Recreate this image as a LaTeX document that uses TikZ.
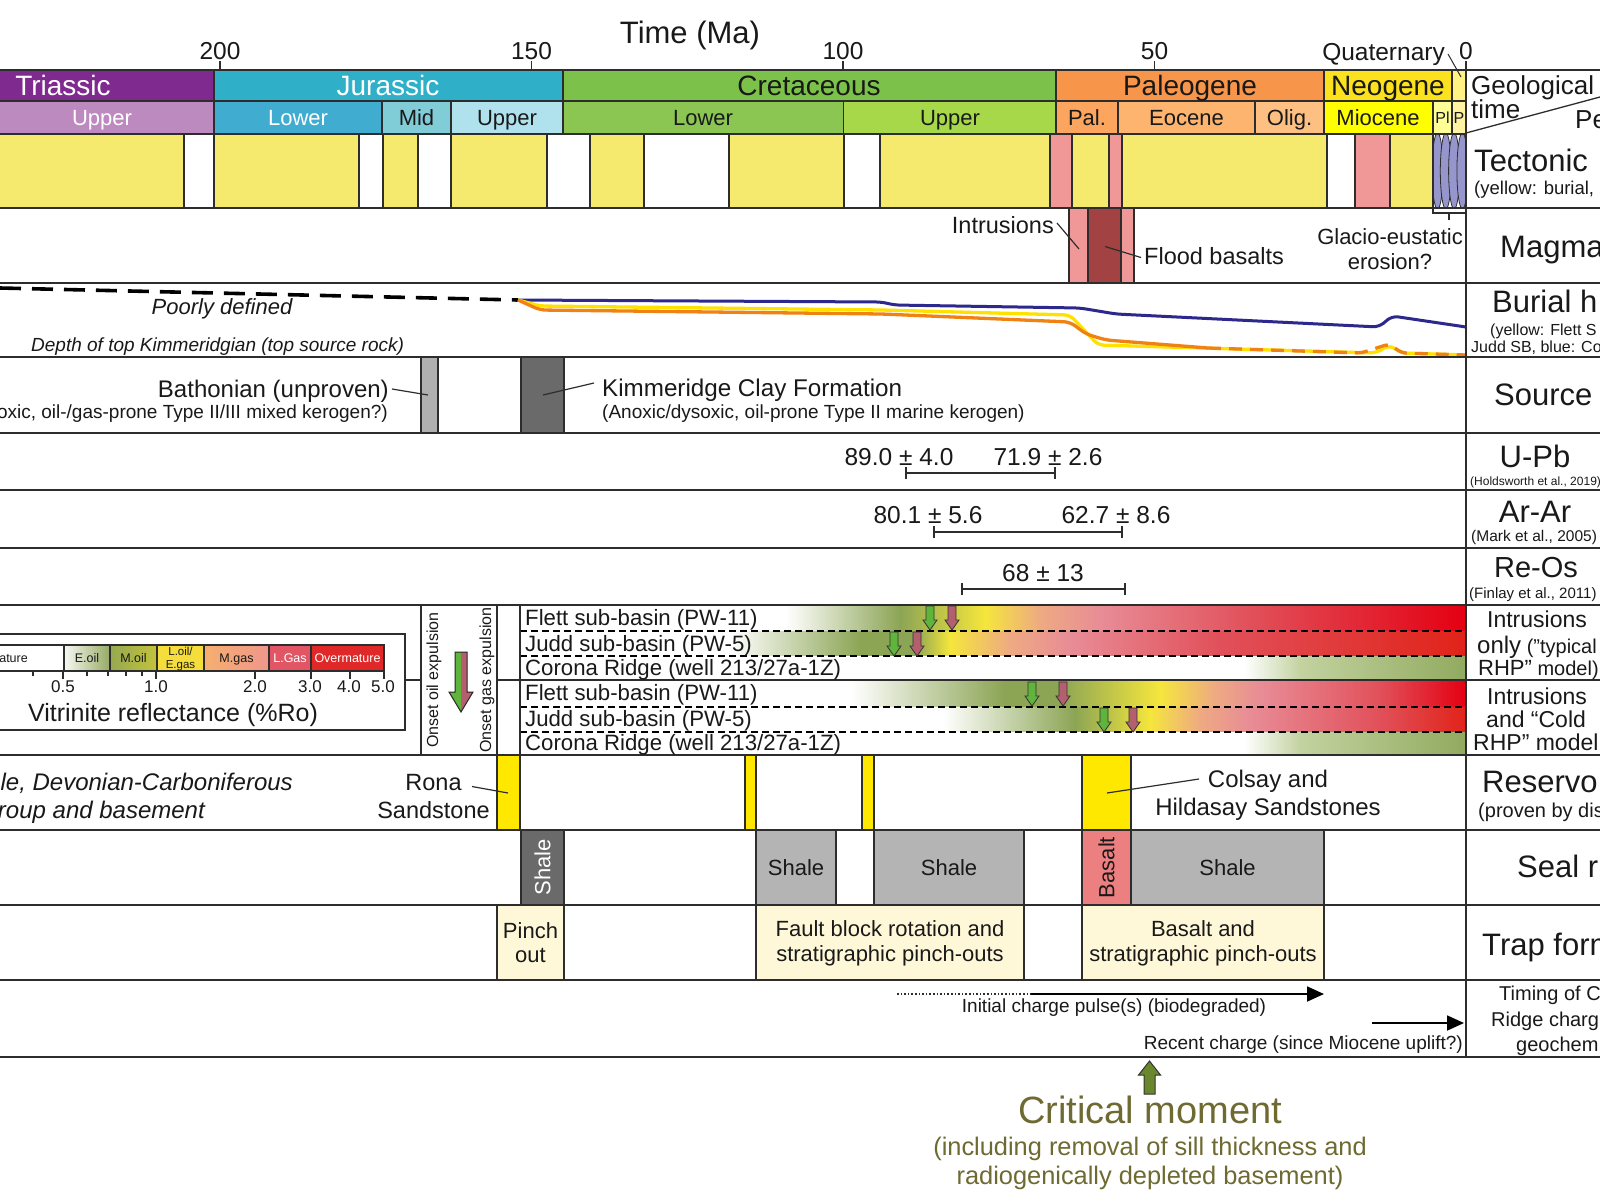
\documentclass[tikz,border=0pt]{standalone}
\usepackage{fontspec}
\setmainfont{Liberation Sans}
\usetikzlibrary{arrows.meta}

\definecolor{cTri}{RGB}{127,42,143}
\definecolor{cJur}{RGB}{48,176,200}
\definecolor{cCre}{RGB}{124,194,74}
\definecolor{cPal}{RGB}{247,149,74}
\definecolor{cNeo}{RGB}{252,225,30}
\definecolor{cQua}{RGB}{255,242,130}
\definecolor{eTriU}{RGB}{189,138,191}
\definecolor{eJurL}{RGB}{64,172,208}
\definecolor{eJurM}{RGB}{128,205,216}
\definecolor{eJurU}{RGB}{176,226,238}
\definecolor{eCreL}{RGB}{139,198,82}
\definecolor{eCreU}{RGB}{166,216,74}
\definecolor{ePal}{RGB}{251,165,94}
\definecolor{eEoc}{RGB}{252,180,110}
\definecolor{eOli}{RGB}{253,192,130}
\definecolor{eMio}{RGB}{255,255,0}
\definecolor{ePli}{RGB}{255,255,150}
\definecolor{ePle}{RGB}{255,242,160}
\definecolor{cYel}{RGB}{245,233,110}
\definecolor{cPink}{RGB}{240,152,152}
\definecolor{cEll}{RGB}{150,150,205}
\definecolor{cDRed}{RGB}{162,66,66}
\definecolor{cLGray}{RGB}{180,180,180}
\definecolor{cBGray}{RGB}{176,176,176}
\definecolor{cDGray}{RGB}{106,106,106}
\definecolor{cRes}{RGB}{255,232,0}
\definecolor{cBas}{RGB}{236,128,128}
\definecolor{cTrap}{RGB}{255,248,216}
\definecolor{cLine}{RGB}{45,45,45}
\definecolor{cTxt}{RGB}{25,25,25}
\definecolor{cBlue}{RGB}{45,40,140}
\definecolor{cYline}{RGB}{255,225,0}
\definecolor{cOrange}{RGB}{240,130,20}
\definecolor{cArrG}{RGB}{95,180,60}
\definecolor{cArrR}{RGB}{180,95,110}
\definecolor{cCrit}{RGB}{110,106,50}
\definecolor{cCritArr}{RGB}{105,135,45}
\definecolor{gGreen}{RGB}{140,165,85}
\definecolor{gYellow}{RGB}{245,230,60}
\definecolor{gSalmon}{RGB}{238,170,130}
\definecolor{gPink}{RGB}{232,140,150}
\definecolor{gRedPink}{RGB}{225,80,90}
\definecolor{gRed}{RGB}{228,0,18}
\definecolor{gRed2}{RGB}{225,35,25}
\definecolor{cLight}{RGB}{195,210,160}
\definecolor{cOlive}{RGB}{145,170,95}
\definecolor{lEoil}{RGB}{150,170,100}
\definecolor{lMoilA}{RGB}{150,168,80}
\definecolor{lMoilB}{RGB}{195,195,60}
\definecolor{lLoil}{RGB}{245,222,60}
\definecolor{lMgasA}{RGB}{245,175,110}
\definecolor{lMgasB}{RGB}{240,150,140}
\definecolor{lLgas}{RGB}{225,85,100}
\definecolor{lOver}{RGB}{225,40,40}

\pgfdeclarehorizontalshading{shFlettA}{100bp}{color(0bp)=(white); color(39.06bp)=(white); color(45.08bp)=(gGreen); color(49.58bp)=(gYellow); color(52.48bp)=(gSalmon); color(55.66bp)=(gPink); color(63.58bp)=(gRedPink); color(75bp)=(gRed); color(100bp)=(gRed)}
\pgfdeclarehorizontalshading{shJuddA}{100bp}{color(0bp)=(white); color(36.10bp)=(white); color(42.97bp)=(gGreen); color(45.88bp)=(gGreen); color(47.73bp)=(gYellow); color(50.90bp)=(gSalmon); color(54.07bp)=(gPink); color(62.0bp)=(gRedPink); color(75bp)=(gRed2); color(100bp)=(gRed2)}
\pgfdeclarehorizontalshading{shCorona}{100bp}{color(0bp)=(white); color(63.27bp)=(white); color(66.23bp)=(cLight); color(75bp)=(cOlive); color(100bp)=(cOlive)}
\pgfdeclarehorizontalshading{shFlettB}{100bp}{color(0bp)=(white); color(42.49bp)=(white); color(50.58bp)=(gGreen); color(53.54bp)=(gGreen); color(58.83bp)=(gYellow); color(61.73bp)=(gSalmon); color(64.11bp)=(gPink); color(70.45bp)=(gRedPink); color(75bp)=(gRed); color(100bp)=(gRed)}
\pgfdeclarehorizontalshading{shJuddB}{100bp}{color(0bp)=(white); color(47.36bp)=(white); color(54.33bp)=(gGreen); color(58.30bp)=(gYellow); color(60.94bp)=(gSalmon); color(63.58bp)=(gPink); color(70.45bp)=(gRedPink); color(75bp)=(gRed2); color(100bp)=(gRed2)}

% text helper: [opts]{name}{x}{y-centre of caps}{anchor}{size}{text}
\newcommand\tx[7][]{\node[inner sep=0pt, anchor=#5, text=cTxt, font=\fontsize{#6}{#6}\selectfont, #1] (#2) at ({#3},{#4+0.358*#6}) {#7};}
% small down arrow: {x}{ytop}{fill}
\newcommand\darr[3]{\filldraw[fill=#3, draw=black!80, line width=0.8pt] ({#1-4},{#2}) -- ({#1+4},{#2}) -- ({#1+4},{#2+14}) -- ({#1+7},{#2+14}) -- ({#1},{#2+24}) -- ({#1-7},{#2+14}) -- ({#1-4},{#2+14}) -- cycle;}

\begin{document}
\begin{tikzpicture}[x=1pt,y=-1pt,
  boxs/.style={draw=cLine, line width=1.4pt},
  rowline/.style={draw=cLine, line width=2.2pt},
  thinl/.style={draw=cLine, line width=1.3pt}]
\useasboundingbox (0,0) rectangle (1600,1200);
\clip (0,0) rectangle (1600,1200);
\fill[white] (0,0) rectangle (1600,1200);

% ---------------- geological time scale ----------------
\filldraw[boxs, fill=cTri] (-5,70) rectangle (214,101);
\filldraw[boxs, fill=cJur] (214,70) rectangle (563,101);
\filldraw[boxs, fill=cCre] (563,70) rectangle (1056,101);
\filldraw[boxs, fill=cPal] (1056,70) rectangle (1324,101);
\filldraw[boxs, fill=cNeo] (1324,70) rectangle (1452,101);
\filldraw[boxs, fill=cQua] (1452,70) rectangle (1466,101);

\filldraw[boxs, fill=eTriU] (-5,101) rectangle (214,134);
\filldraw[boxs, fill=eJurL] (214,101) rectangle (382,134);
\filldraw[boxs, fill=eJurM] (382,101) rectangle (451,134);
\filldraw[boxs, fill=eJurU] (451,101) rectangle (563,134);
\filldraw[boxs, fill=eCreL] (563,101) rectangle (843.5,134);
\filldraw[boxs, fill=eCreU] (843.5,101) rectangle (1056,134);
\filldraw[boxs, fill=ePal] (1056,101) rectangle (1118,134);
\filldraw[boxs, fill=eEoc] (1118,101) rectangle (1255,134);
\filldraw[boxs, fill=eOli] (1255,101) rectangle (1324,134);
\filldraw[boxs, fill=eMio] (1324,101) rectangle (1433,134);
\filldraw[boxs, fill=ePli] (1433,101) rectangle (1452,134);
\filldraw[boxs, fill=ePle] (1452,101) rectangle (1466,134);

% ---------------- tectonic row ----------------
\foreach \a/\b in {-5/184, 214/359, 383/418, 451/547, 590/644, 729/844, 880/1050, 1072/1109, 1122/1327, 1390/1433}
  \filldraw[boxs, fill=cYel] (\a,134) rectangle (\b,208);
\foreach \a/\b in {184/214, 359/383, 418/451, 547/590, 644/729, 844/880, 1327/1355}
  \filldraw[boxs, fill=white] (\a,134) rectangle (\b,208);
\foreach \a/\b in {1050/1072, 1109/1122, 1355/1390}
  \filldraw[boxs, fill=cPink] (\a,134) rectangle (\b,208);
\begin{scope}
  \clip (1433,134) rectangle (1466,208);
  \fill[white] (1433,134) rectangle (1466,208);
  \foreach \c in {1437.5,1445.8,1454.1,1462.4}
    \filldraw[fill=cEll, draw=cLine, line width=0.8pt] (\c,171) ellipse [x radius=5.5pt, y radius=38pt];
\end{scope}
\draw[boxs] (1433,134) rectangle (1466,208);

% ---------------- magmatism row ----------------
\filldraw[boxs, fill=cPink] (1069,208) rectangle (1134,283);
\filldraw[boxs, fill=cDRed] (1088,208) rectangle (1121,283);
\draw[thinl] (1433,208) -- (1433,213) -- (1466,213);
\draw[thinl] (1449,213) -- (1449,220);

% ---------------- source row ----------------
\filldraw[boxs, fill=cBGray] (421,357) rectangle (438,433);
\filldraw[boxs, fill=cDGray] (521,357) rectangle (564,433);

% ---------------- maturation rows ----------------
\shade[shading=shFlettA] (520,605) rectangle (1466,631);
\shade[shading=shJuddA] (520,631) rectangle (1466,656);
\shade[shading=shCorona] (520,656) rectangle (1466,680);
\shade[shading=shFlettB] (520,680) rectangle (1466,707);
\shade[shading=shJuddB] (520,707) rectangle (1466,732);
\shade[shading=shCorona] (520,732) rectangle (1466,755);
\foreach \y in {631,656,707,732}
  \draw[black, line width=1.3pt, dash pattern=on 7pt off 4pt] (520,\y) -- (1466,\y);
\darr{930}{606}{cArrG}\darr{952}{606}{cArrR}
\darr{894}{632}{cArrG}\darr{917}{632}{cArrR}
\darr{1032}{682}{cArrG}\darr{1063}{682}{cArrR}
\darr{1104}{708}{cArrG}\darr{1133}{708}{cArrR}
\draw[thinl] (421,605) -- (421,755);
\draw[thinl] (497,605) -- (497,755);
\draw[thinl] (520,605) -- (520,755);
\draw[rowline] (497,680) -- (1600,680);
\draw[thinl] (405,680) -- (421,680);

% onset arrow
\fill[cArrG] (455,652) -- (461,652) -- (461,712) -- (449,692) -- (455,692) -- cycle;
\fill[cArrR] (461,652) -- (467,652) -- (467,692) -- (473,692) -- (461,712) -- cycle;
\draw[draw=black!85, line width=1pt] (455,652) -- (467,652) -- (467,692) -- (473,692) -- (461,712) -- (449,692) -- (455,692) -- cycle;
\node[rotate=90, inner sep=0pt, text=cTxt, font=\fontsize{16}{16}\selectfont] (onoil) at (434,680) {Onset oil expulsion};
\node[rotate=90, inner sep=0pt, text=cTxt, font=\fontsize{16}{16}\selectfont] (ongas) at (487,680) {Onset gas expulsion};

% legend
\draw[line width=2pt, draw=cLine, fill=white] (-10,634) rectangle (405,730);
\filldraw[thinl, fill=white] (-40,645) rectangle (64,671);
\shade[left color=white!92!lEoil, right color=lEoil] (64,645) rectangle (110,671);
\shade[left color=lMoilA, right color=lMoilB] (110,645) rectangle (157,671);
\fill[lLoil] (157,645) rectangle (204,671);
\shade[left color=lMgasA, right color=lMgasB] (204,645) rectangle (269,671);
\fill[lLgas] (269,645) rectangle (311,671);
\fill[lOver] (311,645) rectangle (384,671);
\foreach \a/\b in {64/110, 110/157, 157/204, 204/269, 269/311, 311/384}
  \draw[line width=1.1pt, draw=cLine] (\a,645) rectangle (\b,671);
\foreach \x in {33,87,108,126,142}
  \draw[line width=1.1pt, draw=cLine] (\x,671) -- (\x,676);
\foreach \x in {63,156,255,311,350,384}
  \draw[line width=1.2pt, draw=cLine] (\x,671) -- (\x,679);
\tx{lIm}{28}{658}{base east}{12.5}{Immature}
\tx{lEo}{87}{658}{base}{12.5}{E.oil}
\tx{lMo}{133.5}{658}{base}{12.5}{M.oil}
\tx{lLo}{180.5}{651.5}{base}{11.5}{L.oil/}
\tx{lEg}{180.5}{664}{base}{11.5}{E.gas}
\tx{lMg}{236.5}{658}{base}{12.5}{M.gas}
\tx[text=white]{lLg}{290}{658}{base}{12.5}{L.Gas}
\tx[text=white]{lOv}{347.5}{658}{base}{12.5}{Overmature}
\tx{t05}{63}{686}{base}{17}{0.5}
\tx{t10}{156}{686}{base}{17}{1.0}
\tx{t20}{255}{686}{base}{17}{2.0}
\tx{t30}{310}{686}{base}{17}{3.0}
\tx{t40}{349}{686}{base}{17}{4.0}
\tx{t50}{383}{686}{base}{17}{5.0}
\tx{lVit}{173}{713}{base}{25}{Vitrinite reflectance (\%Ro)}

% ---------------- reservoir / seal / trap ----------------
\filldraw[boxs, fill=cRes] (497,755) rectangle (520,830);
\filldraw[boxs, fill=cRes] (745,755) rectangle (756,830);
\filldraw[boxs, fill=cRes] (862,755) rectangle (874,830);
\filldraw[boxs, fill=cRes] (1082,755) rectangle (1131,830);

\filldraw[boxs, fill=cDGray] (521,830) rectangle (564,905);
\filldraw[boxs, fill=cLGray] (756,830) rectangle (836,905);
\filldraw[boxs, fill=cLGray] (874,830) rectangle (1024,905);
\filldraw[boxs, fill=cBas] (1082,830) rectangle (1131,905);
\filldraw[boxs, fill=cLGray] (1131,830) rectangle (1324,905);

\filldraw[boxs, fill=cTrap] (497,905) rectangle (564,980);
\filldraw[boxs, fill=cTrap] (756,905) rectangle (1024,980);
\filldraw[boxs, fill=cTrap] (1082,905) rectangle (1324,980);

% ---------------- burial history ----------------
\coordinate (dashL) at (0,288);
\coordinate (bStart) at (518,300);
\draw[black, line width=3.6pt, dash pattern=on 21pt off 11pt] (dashL) -- (bStart);
\draw[cBlue, line width=3pt, rounded corners=6pt] (bStart) -- (882,302) -- (894,305) -- (1080,308) -- (1116,314) -- (1379,327) -- (1392,316) -- (1466,327);
\draw[cYline, line width=3.3pt, rounded corners=6pt] (bStart) -- (540,306) -- (882,310) -- (1070,315) -- (1098,345) -- (1376,353) -- (1389,345) -- (1402,353) -- (1466,355);
\draw[cOrange, line width=3.3pt, rounded corners=6pt] (bStart) -- (540,310) -- (882,314) -- (1070,322) -- (1086,334) -- (1106,340) -- (1208,348);
\draw[cOrange, line width=3.3pt, dash pattern=on 13pt off 8pt, rounded corners=4pt] (1208,348) -- (1361,353) -- (1389,344) -- (1402,353) -- (1466,355);

% ---------------- error bars ----------------
\coordinate (u1) at (906,473); \coordinate (u2) at (1055,473);
\coordinate (r1) at (934,532); \coordinate (r2) at (1122,532);
\coordinate (o1) at (962,589); \coordinate (o2) at (1125,589);
\foreach \p/\q in {u1/u2, r1/r2, o1/o2}{
  \draw[line width=1.5pt, draw=cLine] (\p) -- (\q);
  \draw[line width=1.8pt, draw=cLine] ([yshift=-6pt]\p) -- ([yshift=6pt]\p);
  \draw[line width=1.8pt, draw=cLine] ([yshift=-6pt]\q) -- ([yshift=6pt]\q);
}

% ---------------- timing arrows ----------------
\coordinate (ic0) at (897,994); \coordinate (ic1) at (1031,994); \coordinate (ic2) at (1324,994);
\draw[line width=1.6pt, dotted, draw=cLine] (ic0) -- (ic1);
\draw[line width=1.8pt, draw=black, -{Triangle[length=17pt,width=15pt]}] (ic1) -- (ic2);
\coordinate (rc1) at (1372,1023); \coordinate (rc2) at (1464,1023);
\draw[line width=1.8pt, draw=black, -{Triangle[length=17pt,width=15pt]}] (rc1) -- (rc2);

% critical moment arrow
\filldraw[fill=cCritArr, draw=black!80, line width=1pt] (1144,1094) -- (1144,1075) -- (1138.5,1075) -- (1149.5,1061) -- (1160.5,1075) -- (1155,1075) -- (1155,1094) -- cycle;

% ---------------- grid lines ----------------
\foreach \y in {70,208,283,357,433,490,548,605,755,830,905,980,1057}
  \draw[rowline] (0,\y) -- (1600,\y);
\draw[rowline] (0,101) -- (1466,101);
\draw[rowline] (0,134) -- (1466,134);
\draw[rowline] (1466,70) -- (1466,1057);
\draw[thinl] (1466,133) -- (1600,97);
\foreach \x in {220,531.5,843,1154.5,1466} \draw[thinl] (\x,61) -- (\x,70);
\draw[line width=1pt, draw=cLine] (1448,54) -- (1461,77);

% ---------------- texts: header ----------------
\tx{ttl}{690}{32}{base}{31}{Time (Ma)}
\tx{a200}{220}{50.5}{base}{24.5}{200}
\tx{a150}{531.5}{50.5}{base}{24.5}{150}
\tx{a100}{843}{50.5}{base}{24.5}{100}
\tx{a50}{1154.5}{50.5}{base}{24.5}{50}
\tx{a0}{1466}{50.5}{base}{24.5}{0}
\tx{quat}{1445}{52}{base east}{24.5}{Quaternary}

\tx[text=white]{pTri}{63}{85}{base}{28}{Triassic}
\tx[text=white]{pJur}{388}{85}{base}{28}{Jurassic}
\tx{pCre}{809}{85}{base}{28}{Cretaceous}
\tx{pPal}{1190}{85}{base}{28}{Paleogene}
\tx{pNeo}{1388}{85}{base}{28}{Neogene}

\tx[text=white]{eA}{102}{118}{base}{22}{Upper}
\tx[text=white]{eB}{298}{118}{base}{22}{Lower}
\tx{eC}{416.5}{118}{base}{22}{Mid}
\tx{eD}{507}{118}{base}{22}{Upper}
\tx{eE}{703}{118}{base}{22}{Lower}
\tx{eF}{950}{118}{base}{22}{Upper}
\tx{eG}{1087}{118}{base}{22}{Pal.}
\tx{eH}{1186.5}{118}{base}{22}{Eocene}
\tx{eI}{1289.5}{118}{base}{22}{Olig.}
\tx{eJ}{1378}{118}{base}{22}{Miocene}
\tx{eK}{1442.5}{118}{base}{16}{Pl}
\tx{eL}{1459}{118}{base}{16}{P}

% ---------------- texts: magmatism ----------------
\tx{intr}{1054}{225}{base east}{23.5}{Intrusions}
\draw[line width=1.2pt, draw=cLine] ([xshift=3pt,yshift=2pt]intr.east) -- (1079,249);
\tx{flood}{1144}{256.5}{base west}{23.5}{Flood basalts}
\draw[line width=1.2pt, draw=cLine] (1105,246.5) -- ([xshift=-3pt,yshift=-1pt]flood.west);
\tx{glac1}{1390}{236.5}{base}{22}{Glacio-eustatic}
\tx{glac2}{1390}{261.5}{base}{22}{erosion?}

% ---------------- texts: burial ----------------
\tx{poor}{222}{307}{base}{22}{\itshape Poorly defined}
\tx{depth}{31}{345}{base west}{19}{\itshape Depth of top Kimmeridgian (top source rock)}

% ---------------- texts: source ----------------
\tx{bath}{389}{388.5}{base east}{24}{Bathonian (unproven)}
\draw[line width=1.2pt, draw=cLine] (392,389) -- (428,395);
\tx{bath2}{388}{412}{base east}{19}{(Dysoxic, oil-/gas-prone Type II/III mixed kerogen?)}
\tx{kimm}{602}{388}{base west}{24.2}{Kimmeridge Clay Formation}
\draw[line width=1.2pt, draw=cLine] (594,383) -- (543,395);
\tx{kimm2}{602}{412}{base west}{19}{(Anoxic/dysoxic, oil-prone Type II marine kerogen)}

% ---------------- texts: ages ----------------
\tx{up1}{899}{457}{base}{24.5}{89.0 ± 4.0}
\tx{up2}{1048}{457}{base}{24.5}{71.9 ± 2.6}
\tx{ar1}{928}{515}{base}{24.5}{80.1 ± 5.6}
\tx{ar2}{1116}{515}{base}{24.5}{62.7 ± 8.6}
\tx{ro1}{1043}{573}{base}{24.5}{68 ± 13}

% ---------------- texts: sites ----------------
\tx{s1}{525}{618}{base west}{22.2}{Flett sub-basin (PW-11)}
\tx{s2}{525}{643.5}{base west}{22.2}{Judd sub-basin (PW-5)}
\tx{s3}{525}{668}{base west}{22.2}{Corona Ridge (well 213/27a-1Z)}
\tx{s4}{525}{693}{base west}{22.2}{Flett sub-basin (PW-11)}
\tx{s5}{525}{719}{base west}{22.2}{Judd sub-basin (PW-5)}
\tx{s6}{525}{743}{base west}{22.2}{Corona Ridge (well 213/27a-1Z)}

% ---------------- texts: reservoir ----------------
\tx{dev1}{293}{782}{base east}{24}{\itshape Shale, Devonian-Carboniferous}
\tx{dev2}{205}{810}{base east}{24}{\itshape Group and basement}
\tx{rona1}{433.5}{782}{base}{23.5}{Rona}
\tx{rona2}{433.5}{810}{base}{23.5}{Sandstone}
\draw[line width=1.2pt, draw=cLine] (472,786.5) -- (508,793);
\tx{cols1}{1268}{779}{base}{24}{Colsay and}
\tx{cols2}{1268}{807}{base}{24}{Hildasay Sandstones}
\draw[line width=1.2pt, draw=cLine] (1199,779) -- (1107,793);

% ---------------- texts: seal ----------------
\node[rotate=90, inner sep=0pt, text=white, font=\fontsize{22}{22}\selectfont] (shV) at (542.5,867.5) {Shale};
\tx{sh1}{796}{868}{base}{22}{Shale}
\tx{sh2}{949}{868}{base}{22}{Shale}
\node[rotate=90, inner sep=0pt, text=cTxt, font=\fontsize{22}{22}\selectfont] (basV) at (1106.5,867.5) {Basalt};
\tx{sh3}{1227.5}{868}{base}{22}{Shale}

% ---------------- texts: trap ----------------
\tx{pi1}{530.5}{931}{base}{22}{Pinch}
\tx{pi2}{530.5}{955}{base}{22}{out}
\tx{fb1}{890}{929}{base}{22}{Fault block rotation and}
\tx{fb2}{890}{954}{base}{22}{stratigraphic pinch-outs}
\tx{ba1}{1203}{929}{base}{22}{Basalt and}
\tx{ba2}{1203}{954}{base}{22}{stratigraphic pinch-outs}

% ---------------- texts: timing ----------------
\tx{icp}{1114}{1006}{base}{19}{Initial charge pulse(s) (biodegraded)}
\tx{rcc}{1463}{1043}{base east}{19}{Recent charge (since Miocene uplift?)}

% ---------------- critical moment ----------------
\tx[text=cCrit]{crit}{1150}{1110}{base}{38}{Critical moment}
\tx[text=cCrit]{crit2}{1150}{1146}{base}{25.4}{(including removal of sill thickness and}
\tx[text=cCrit]{crit3}{1150}{1175}{base}{25.4}{radiogenically depleted basement)}

% ---------------- right column ----------------
\tx{gt1}{1471}{85}{base west}{26}{Geological}
\tx{gt2}{1471}{109}{base west}{26}{time}
\tx{gt3}{1575}{119}{base west}{26}{Pe}
\tx{rTec}{1474}{160}{base west}{31}{Tectonic}
\tx{rTec2}{1474}{188}{base west}{18.5}{(yellow: burial,}
\tx{rMag}{1500}{246}{base west}{31}{Magma}
\tx{rBur}{1492}{301}{base west}{31}{Burial h}
\tx{rBur2}{1490}{330}{base west}{16}{(yellow: Flett S}
\tx{rBur3}{1471}{347}{base west}{16}{Judd SB, blue: Co}
\tx{rSrc}{1494}{394}{base west}{31}{Source}
\tx{rUPb}{1535}{456}{base}{31}{U-Pb}
\tx{rUPb2}{1470}{481}{base west}{12}{(Holdsworth et al., 2019)}
\tx{rAr}{1535}{511}{base}{31}{Ar-Ar}
\tx{rAr2}{1471}{536}{base west}{15.5}{(Mark et al., 2005)}
\tx{rRe}{1536}{567}{base}{29}{Re-Os}
\tx{rRe2}{1469}{593}{base west}{15}{(Finlay et al., 2011)}
\tx{rI1}{1537}{619}{base}{23}{Intrusions}
\tx{rI2}{1477}{645}{base west}{24}{only{\fontsize{20}{20}\selectfont\ ("typical}}
\tx{rI3}{1478}{668}{base west}{22}{RHP"{\fontsize{20}{20}\selectfont\ model)}}
\tx{rJ1}{1537}{696}{base}{23}{Intrusions}
\tx{rJ2}{1486}{719}{base west}{23}{and “Cold}
\tx{rJ3}{1473}{742}{base west}{23}{RHP” model}
\tx{rRes}{1482}{781}{base west}{31}{Reservo}
\tx{rRes2}{1478}{810}{base west}{20}{(proven by dis}
\tx{rSeal}{1517}{866}{base west}{31}{Seal r}
\tx{rTrap}{1482}{944}{base west}{31}{Trap form}
\tx{rTim1}{1499}{993}{base west}{20}{Timing of C}
\tx{rTim2}{1491}{1019}{base west}{20}{Ridge charg}
\tx{rTim3}{1516}{1044}{base west}{20}{geochem}
\end{tikzpicture}
\end{document}
